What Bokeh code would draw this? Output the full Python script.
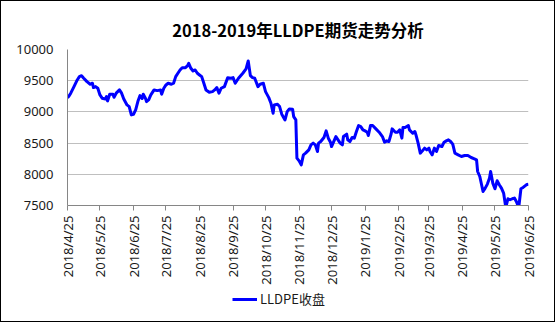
import math
import pandas as pd
from bokeh.plotting import figure
from bokeh.layouts import column
from bokeh.models import Range1d, FixedTicker, Legend, LegendItem, ColumnDataSource
from bokeh.embed import file_html
from bokeh.resources import INLINE

chart_title = "2018-2019年LLDPE期货走势分析"
series_name = "LLDPE收盘"

trade_dates = [
    "2018-04-25", "2018-04-26", "2018-04-28", "2018-05-01", "2018-05-04", "2018-05-06", "2018-05-08",
    "2018-05-10", "2018-05-13", "2018-05-16", "2018-05-18", "2018-05-19", "2018-05-21", "2018-05-23",
    "2018-05-25", "2018-05-27", "2018-05-30", "2018-05-31", "2018-06-01", "2018-06-03", "2018-06-06",
    "2018-06-07", "2018-06-09", "2018-06-12", "2018-06-14", "2018-06-16", "2018-06-19", "2018-06-21",
    "2018-06-23", "2018-06-25", "2018-06-27", "2018-06-29", "2018-07-01", "2018-07-03", "2018-07-04",
    "2018-07-06", "2018-07-07", "2018-07-09", "2018-07-11", "2018-07-14", "2018-07-17", "2018-07-20",
    "2018-07-21", "2018-07-23", "2018-07-25", "2018-07-27", "2018-07-30", "2018-08-01", "2018-08-03",
    "2018-08-05", "2018-08-07", "2018-08-09", "2018-08-12", "2018-08-14", "2018-08-15", "2018-08-17",
    "2018-08-19", "2018-08-21", "2018-08-23", "2018-08-25", "2018-08-27", "2018-08-29", "2018-08-31",
    "2018-09-03", "2018-09-06", "2018-09-08", "2018-09-10", "2018-09-12", "2018-09-14", "2018-09-17",
    "2018-09-20", "2018-09-23", "2018-09-25", "2018-09-27", "2018-09-30", "2018-10-04", "2018-10-07",
    "2018-10-09", "2018-10-11", "2018-10-13", "2018-10-15", "2018-10-18", "2018-10-20", "2018-10-23",
    "2018-10-25", "2018-10-28", "2018-10-30", "2018-11-01", "2018-11-02", "2018-11-05", "2018-11-07",
    "2018-11-09", "2018-11-12", "2018-11-14", "2018-11-16", "2018-11-19", "2018-11-20", "2018-11-22",
    "2018-11-23", "2018-11-25", "2018-11-27", "2018-11-29", "2018-12-01", "2018-12-04", "2018-12-06",
    "2018-12-08", "2018-12-10", "2018-12-12", "2018-12-13", "2018-12-15", "2018-12-18", "2018-12-20",
    "2018-12-22", "2018-12-24", "2018-12-25", "2018-12-27", "2018-12-29", "2018-12-31", "2019-01-02",
    "2019-01-04", "2019-01-05", "2019-01-08", "2019-01-09", "2019-01-11", "2019-01-13", "2019-01-15",
    "2019-01-17", "2019-01-19", "2019-01-21", "2019-01-23", "2019-01-25", "2019-01-27", "2019-01-28",
    "2019-01-30", "2019-02-01", "2019-02-04", "2019-02-07", "2019-02-10", "2019-02-12", "2019-02-14",
    "2019-02-16", "2019-02-18", "2019-02-19", "2019-02-22", "2019-02-24", "2019-02-26", "2019-02-28",
    "2019-03-01", "2019-03-03", "2019-03-06", "2019-03-07", "2019-03-10", "2019-03-12", "2019-03-13",
    "2019-03-15", "2019-03-17", "2019-03-19", "2019-03-21", "2019-03-23", "2019-03-25", "2019-03-26",
    "2019-03-28", "2019-03-30", "2019-04-01", "2019-04-03", "2019-04-06", "2019-04-08", "2019-04-10",
    "2019-04-12", "2019-04-14", "2019-04-16", "2019-04-18", "2019-04-21", "2019-04-24", "2019-04-27",
    "2019-04-30", "2019-05-03", "2019-05-06", "2019-05-08", "2019-05-09", "2019-05-11", "2019-05-14",
    "2019-05-16", "2019-05-18", "2019-05-20", "2019-05-21", "2019-05-23", "2019-05-25", "2019-05-27",
    "2019-05-29", "2019-05-31", "2019-06-02", "2019-06-04", "2019-06-06", "2019-06-08", "2019-06-10",
    "2019-06-12", "2019-06-14", "2019-06-16", "2019-06-18", "2019-06-20", "2019-06-23", "2019-06-25",
]

close_values = [
    9225, 9245, 9300, 9405, 9512, 9565, 9580,
    9540, 9485, 9443, 9460, 9390, 9405, 9380,
    9272, 9220, 9208, 9245, 9176, 9283, 9283,
    9235, 9300, 9352, 9300, 9208, 9112, 9085,
    8952, 8963, 9032, 9165, 9261, 9215, 9283,
    9220, 9165, 9192, 9272, 9352, 9341, 9352,
    9283, 9379, 9432, 9459, 9443, 9459, 9565,
    9619, 9672, 9709, 9709, 9741, 9779, 9699,
    9656, 9672, 9619, 9592, 9565, 9459, 9352,
    9315, 9325, 9352, 9389, 9300, 9379, 9405,
    9549, 9539, 9549, 9459, 9539, 9619, 9688,
    9816, 9581, 9549, 9539, 9405, 9443, 9459,
    9325, 9229, 9139, 8979, 9112, 9123, 9085,
    8963, 8872, 9005, 9048, 9043, 8925, 8872,
    8259, 8216, 8152, 8312, 8339, 8392, 8472,
    8499, 8472, 8365, 8499, 8525, 8589, 8696,
    8579, 8515, 8445, 8525, 8605, 8552, 8499,
    8472, 8605, 8643, 8552, 8525, 8589, 8579,
    8685, 8781, 8765, 8712, 8696, 8675, 8621,
    8781, 8781, 8728, 8675, 8605, 8515, 8536,
    8525, 8643, 8728, 8675, 8675, 8712, 8579,
    8749, 8749, 8781, 8712, 8659, 8685, 8632,
    8499, 8339, 8376, 8419, 8392, 8419, 8365,
    8312, 8419, 8365, 8461, 8445, 8515, 8536,
    8552, 8525, 8483, 8339, 8312, 8285, 8301,
    8301, 8269, 8248, 8232, 8045, 7965, 7725,
    7779, 7843, 7939, 8045, 7859, 7768, 7896,
    7832, 7779, 7699, 7470, 7608, 7592, 7608,
    7619, 7555, 7470, 7768, 7789, 7832, 7843,
]

x_tick_dates = [
    "2018-04-25", "2018-05-25", "2018-06-25", "2018-07-25", "2018-08-25", "2018-09-25", "2018-10-25",
    "2018-11-25", "2018-12-25", "2019-01-25", "2019-02-25", "2019-03-25", "2019-04-25", "2019-05-25",
    "2019-06-25",
]
x_tick_labels = [
    "2018/4/25", "2018/5/25", "2018/6/25", "2018/7/25", "2018/8/25", "2018/9/25", "2018/10/25",
    "2018/11/25", "2018/12/25", "2019/1/25", "2019/2/25", "2019/3/25", "2019/4/25", "2019/5/25",
    "2019/6/25",
]
y_ticks = [7500, 8000, 8500, 9000, 9500, 10000]

src = ColumnDataSource(data=dict(date=pd.to_datetime(trade_dates), close=close_values))

x_start = pd.Timestamp(x_tick_dates[0])
x_end = pd.Timestamp(x_tick_dates[-1])

# ---- main chart ----
p = figure(
    width=553, height=286, x_axis_type="datetime",
    output_backend="svg", toolbar_location=None,
    x_range=Range1d(x_start, x_end), y_range=Range1d(y_ticks[0], y_ticks[-1]),
    min_border_left=66, min_border_right=26, min_border_top=48, min_border_bottom=81,
)
p.outline_line_color = None
p.background_fill_color = "white"
p.border_fill_color = "white"

p.title.text = chart_title
p.title.align = "center"
p.title.text_font = "Noto Sans CJK SC"
p.title.text_font_size = "16.5px"
p.title.text_font_style = "bold"
p.title.text_color = "#000000"
p.title.offset = -10
p.title.standoff = 16

p.line(x="date", y="close", source=src, line_color="#0000FF", line_width=3, line_join="round")

tick_ms = [float(pd.Timestamp(d).value // 10**6) for d in x_tick_dates]
xa = p.xaxis[0]
xa.ticker = FixedTicker(ticks=tick_ms)
xa.major_label_overrides = {t: lab for t, lab in zip(tick_ms, x_tick_labels)}
xa.major_label_orientation = math.pi / 2
xa.major_tick_out = 5
xa.major_tick_in = 0
xa.minor_tick_out = 0
xa.minor_tick_in = 0
xa.axis_line_color = "#868686"
xa.major_tick_line_color = "#868686"
xa.major_label_text_font = "Noto Sans"
xa.major_label_text_font_size = "13px"
xa.major_label_text_color = "#1a1a1a"
xa.major_label_standoff = 5

ya = p.yaxis[0]
ya.ticker = FixedTicker(ticks=y_ticks)
ya.major_tick_out = 0
ya.major_tick_in = 0
ya.minor_tick_out = 0
ya.minor_tick_in = 0
ya.axis_line_color = "#868686"
ya.major_label_text_font = "Noto Sans"
ya.major_label_text_font_size = "13px"
ya.major_label_text_color = "#1a1a1a"
ya.major_label_standoff = 14

p.xgrid.grid_line_color = None
p.ygrid.ticker = FixedTicker(ticks=y_ticks)
p.ygrid.grid_line_color = "#BFBFBF"
p.ygrid.grid_line_width = 1

# ---- legend strip (same series, legend only) ----
pl = figure(
    width=553, height=34, output_backend="svg", toolbar_location=None,
    x_axis_location=None, y_axis_location=None, min_border=0,
    x_range=Range1d(x_start, x_end), y_range=Range1d(y_ticks[0], y_ticks[-1]),
)
pl.outline_line_color = None
pl.xgrid.grid_line_color = None
pl.ygrid.grid_line_color = None
pl.background_fill_color = "white"
pl.border_fill_color = "white"
r_leg = pl.line(x="date", y="close", source=src, line_color="#0000FF", line_width=3, visible=False)

legend = Legend(
    items=[LegendItem(label=series_name, renderers=[r_leg])],
    location=(165, 13), orientation="horizontal",
    border_line_color=None, background_fill_alpha=0,
    inactive_fill_alpha=0,
    padding=0, margin=0, glyph_width=25, glyph_height=16, label_height=16,
    label_standoff=3, label_text_font="Noto Sans CJK SC", label_text_font_size="13px",
    label_text_color="#1a1a1a",
)
pl.add_layout(legend)

layout = column(p, pl, spacing=0)
layout.styles = {"border": "1px solid black", "background-color": "white"}

open("out.html", "w").write(file_html(layout, INLINE))
